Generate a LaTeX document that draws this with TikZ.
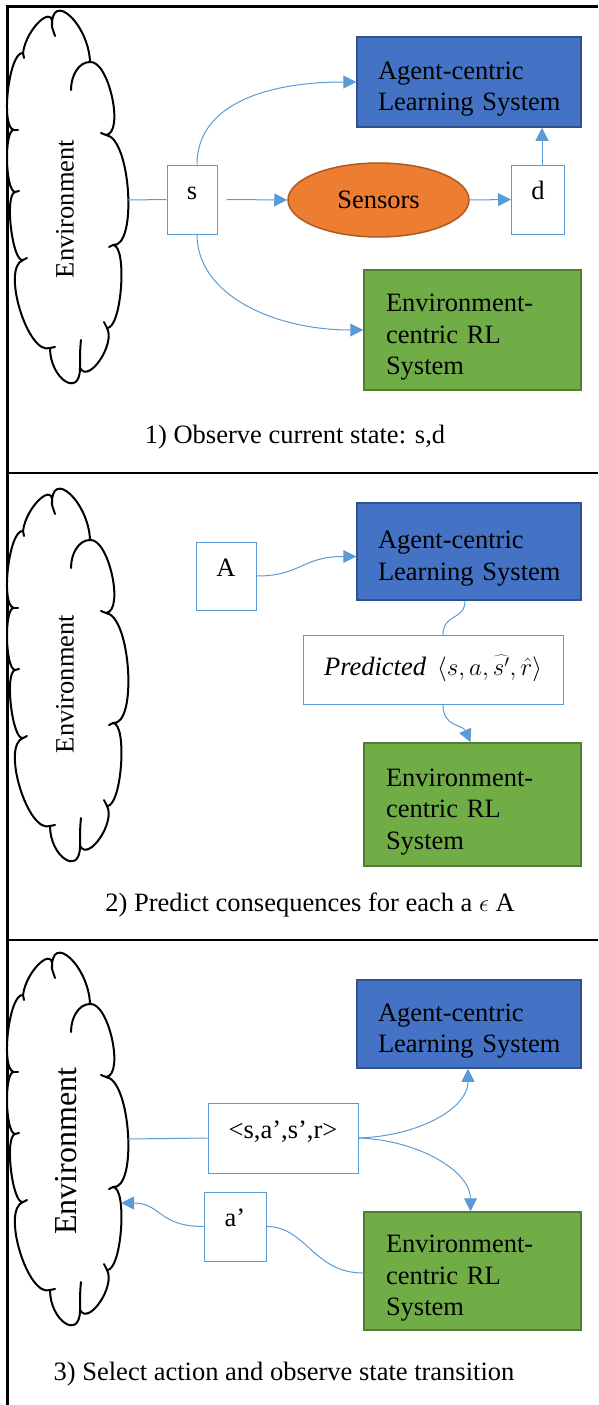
\documentclass[tikz,border=0pt]{standalone}
\usepackage{fontspec}
\setmainfont{Liberation Serif}
\usetikzlibrary{arrows.meta,shapes.geometric}
\definecolor{agentblue}{HTML}{4472C4}
\definecolor{agentborder}{HTML}{2F528F}
\definecolor{envgreen}{HTML}{70AD47}
\definecolor{envborder}{HTML}{507E32}
\definecolor{sensorange}{HTML}{ED7D31}
\definecolor{sensborder}{HTML}{AE5A21}
\definecolor{linkblue}{HTML}{5B9BD5}
\newcommand{\envcloud}[1]{%
 \begin{scope}[shift={(0,#1)}]
 \draw[cloudline,fill=white] (23,53)
  .. controls (26.3,27.7) and (55.3,1.7) .. (52,27)
  .. controls (50.7,-11) and (88.7,24) .. (90,62)
  .. controls (108.7,60) and (124.7,133) .. (106,135)
  .. controls (130.7,137.7) and (137.7,247.7) .. (113,245)
  .. controls (127.7,245.7) and (121.7,328.7) .. (107,328)
  .. controls (115.7,344) and (88.7,384) .. (80,368)
  .. controls (80,398.7) and (50,378.7) .. (50,348)
  .. controls (28,356) and (1,268) .. (23,260)
  .. controls (12.3,262.7) and (4.3,194.7) .. (15,192)
  .. controls (5,190.7) and (4,128.7) .. (14,130)
  .. controls (0,128) and (9,51) .. (23,53) -- cycle;
 \draw[cloudline] (90,62) .. controls (79,62) and (71,75) .. (71,90);
 \draw[cloudline] (80,368) .. controls (80,358) and (80,348) .. (81,340);
 \draw[cloudline] (52,27) .. controls (53,30) and (54,33) .. (55,36);
 \draw[cloudline] (106,135) .. controls (104,134.5) .. (101,133);
 \draw[cloudline] (113,245) .. controls (111,245.5) .. (109,247);
 \draw[cloudline] (107,328) .. controls (106,325) .. (104,322);
 \draw[cloudline] (50,348) .. controls (52,347.5) .. (55,347);
 \draw[cloudline] (23,260) .. controls (25,259) .. (27,258);
 \draw[cloudline] (15,192) .. controls (17,191.5) .. (19,191);
 \draw[cloudline] (14,130) .. controls (16,130) .. (18,130);
 \draw[cloudline] (23,53) .. controls (23.5,55) .. (24,58);
 \end{scope}}
\newcommand{\topstrut}{\rule{0pt}{32pt}}
\begin{document}
\begin{tikzpicture}[x=1pt,y=-1pt,
  frame/.style={line width=2.2pt,black},
  cloudline/.style={line width=2pt,black,line join=round,line cap=round},
  bigtext/.style={font=\fontsize{26.5}{31.5}\selectfont},
  agentbox/.style={draw=agentborder,line width=1.5pt,fill=agentblue,bigtext,text width=182pt,align=left,inner xsep=21pt,inner ysep=0pt},
  envbox/.style={draw=envborder,line width=1.5pt,fill=envgreen,bigtext,text width=173pt,align=left,inner xsep=22pt,inner ysep=0pt},
  smallbox/.style={draw=linkblue,line width=1pt,fill=white,bigtext,inner sep=0pt,text height=10pt,text depth=10pt},
  link/.style={draw=linkblue,line width=1pt},
  arr/.style={link,-{Triangle[length=13pt,width=13pt]}},
  caption/.style={bigtext,inner sep=0pt},
  envtext/.style={bigtext,rotate=90,inner sep=0pt},
]
\useasboundingbox (0,0) rectangle (598,1405);
% frame
\draw[frame] (7.5,1405) -- (7.5,6.5) -- (598,6.5);
\draw[frame] (7.5,473) -- (598,473);
\draw[frame] (7.5,940) -- (598,940);

% ---------- panel 1 ----------
\envcloud{0}
\node[envtext] (envtxt1) at (65,209) {Environment};
\coordinate (env1e) at (128,200);
\node[agentbox,minimum height=90pt] (agent1) at (469,82) {\topstrut Agent-centric\\\mbox{Learning System}};
\node[envbox,minimum height=120pt] (green1) at (472.5,330) {\topstrut Environment-\\centric RL\\System};
\node[smallbox,minimum width=50pt,minimum height=69pt] (s) at (192,199.5) {s};
\node[ellipse,draw=sensborder,line width=1.5pt,fill=sensorange,minimum width=181pt,minimum height=74pt,inner sep=0pt,bigtext] (sens) at (378.5,200) {Sensors};
\node[smallbox,minimum width=53pt,minimum height=69pt] (d) at (538,199.5) {d};
\coordinate (dtop) at ([xshift=4pt]d.north);
\draw[link] (env1e) -- (s.west);
\draw[arr] ([xshift=9pt]s.east) -- (sens.west);
\draw[arr] (sens.east) -- (d.west);
\draw[arr] (dtop) -- (dtop |- agent1.south);
\draw[arr] ([xshift=5pt]s.north) .. controls +(0,-60) and +(-90,0) .. (agent1.west);
\draw[arr] ([xshift=5pt]s.south) .. controls +(0,60) and +(-90,0) .. (green1.west);
\node[caption] (cap1) at (295,437) {1) Observe current state: s,d};

% ---------- panel 2 ----------
\envcloud{478}
\node[envtext] (envtxt2) at (65,684) {Environment};
\node[agentbox,minimum height=97pt] (agent2) at (469,551.5) {\topstrut Agent-centric\\\mbox{Learning System}};
\node[envbox,minimum height=123pt] (green2) at (472.5,804.5) {\topstrut Environment-\\centric RL\\System};
\node[smallbox,minimum width=60pt,minimum height=68pt] (A) at (226,576) {A};
\node[smallbox,minimum width=260pt,minimum height=69pt,text height=15pt,text depth=5pt] (pred) at (433,670) {\textit{Predicted}\, $\langle s,a,\widehat{s'},\hat{r}\rangle$};
\draw[arr] (A.east) .. controls +(45,0) and +(-55,0) .. ([yshift=-5pt]agent2.west);
\draw[link] ([xshift=-4pt]agent2.south) .. controls +(0,20) and +(0,-22) .. ([xshift=10pt]pred.north);
\draw[arr] ([xshift=10pt]pred.south) .. controls +(0,22) and +(-8,-18) .. ([xshift=-2pt]green2.north);
\node[caption] (cap2) at (310,905) {2) Predict consequences for each a $\epsilon$ A};

% ---------- panel 3 ----------
\envcloud{942}
\node[envtext,font=\fontsize{32}{38}\selectfont] (envtxt3) at (66,1151) {Environment};
\coordinate (env3e) at (128,1139);
\coordinate (env3a) at (121,1203);
\node[agentbox,minimum height=88pt] (agent3) at (469,1024) {\topstrut Agent-centric\\\mbox{Learning System}};
\node[envbox,minimum height=118pt] (green3) at (472.5,1271) {\topstrut Environment-\\centric RL\\System};
\node[smallbox,minimum width=150pt,minimum height=70pt] (tuple) at (283,1138) {<s,a’,s’,r>};
\node[smallbox,minimum width=62pt,minimum height=69pt] (ap) at (235,1226.5) {a’};
\draw[link] (env3e) -- (tuple.west);
\draw[arr] (tuple.east) .. controls +(60,-2) and +(0,40) .. ([xshift=-1pt]agent3.south);
\draw[arr] (tuple.east) .. controls +(60,2) and +(0,-40) .. ([xshift=-2pt]green3.north);
\draw[link] ([yshift=-2pt]green3.west) .. controls +(-50,0) and +(40,0) .. (ap.east);
\draw[arr] (ap.west) .. controls +(-45,0) and +(40,0) .. (env3a);
\node[caption] (cap3) at (284,1374) {3) Select action and observe state transition};
\end{tikzpicture}
\end{document}
